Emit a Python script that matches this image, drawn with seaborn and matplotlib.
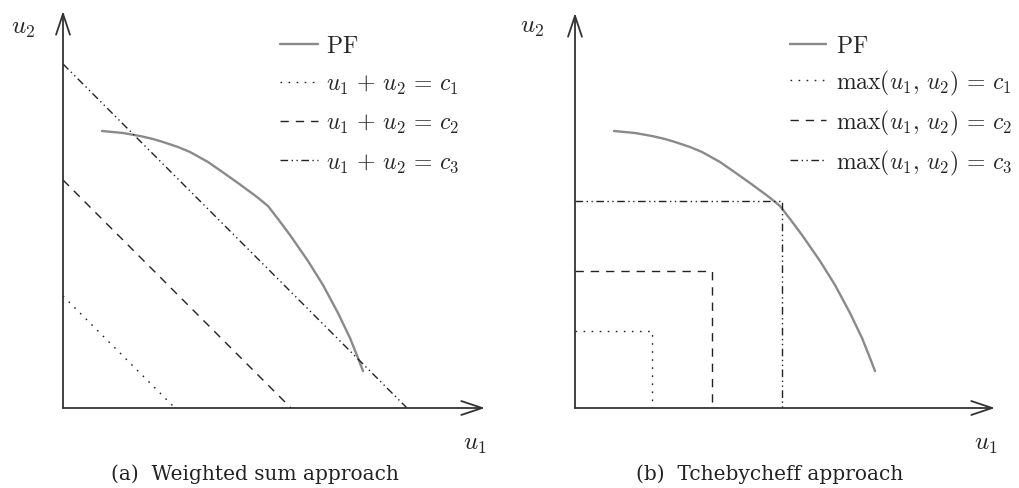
import numpy as np
import pandas as pd
import matplotlib
matplotlib.use("Agg")
import matplotlib.pyplot as plt
import seaborn as sns

# Pareto front (same curve in both panels)
pf_u1 = [0.39, 0.60, 0.77, 0.90, 1.00, 1.15, 1.27, 1.45, 1.58, 1.75, 1.94, 2.05,
         2.15, 2.27, 2.45, 2.60, 2.75, 2.87, 2.95, 3.00]
pf_u2 = [2.77, 2.75, 2.72, 2.69, 2.66, 2.61, 2.56, 2.46, 2.37, 2.25, 2.11, 2.02,
         1.89, 1.73, 1.47, 1.23, 0.95, 0.70, 0.50, 0.37]

# contour levels
ws_levels = [1.12, 2.28, 3.44]   # u1 + u2 = c
tch_levels = [0.77, 1.37, 2.07]  # max(u1, u2) = c

ws_labels = [r"$u_1 \,+\, u_2 \,=\, c_1$", r"$u_1 \,+\, u_2 \,=\, c_2$",
             r"$u_1 \,+\, u_2 \,=\, c_3$"]
tch_labels = [r"$\max(u_1,\, u_2) \,=\, c_1$", r"$\max(u_1,\, u_2) \,=\, c_2$",
              r"$\max(u_1,\, u_2) \,=\, c_3$"]
captions = ["(a)  Weighted sum approach", "(b)  Tchebycheff approach"]

sns.set_theme(style="white")
plt.rcParams["mathtext.fontset"] = "cm"
plt.rcParams["font.family"] = ["DejaVu Serif"]

W, H = 1020, 489
fig = plt.figure(figsize=(W / 100, H / 100), dpi=100)

line_col = "#222222"
pf_col = "#8a8a8a"
styles = [(0, (1.2, 4.6)), (0, (6, 5)), (0, (5.5, 2.5, 1, 2.5, 1, 2.5))]


def px_axes(x0, y0, x1, y1):
    # axes box from pixel corners (origin x0,y0 bottom-left; x1,y1 arrow tips)
    return fig.add_axes([x0 / W, 1 - y0 / H, (x1 - x0) / W, (y0 - y1) / H])


def draw_frame(ax, xmax, ymax):
    ax.set_xlim(0, xmax)
    ax.set_ylim(0, ymax)
    ax.axis("off")
    for tip in [(xmax, 0), (0, ymax)]:
        ax.annotate("", xy=tip, xytext=(0, 0), annotation_clip=False,
                    arrowprops=dict(arrowstyle="->,head_length=0.75,head_width=0.25",
                                    mutation_scale=20, color="#333333", lw=1.3,
                                    shrinkA=0, shrinkB=0))


pf = pd.DataFrame({"u1": pf_u1, "u2": pf_u2})

# ---- panel (a): weighted sum
ax1 = px_axes(63, 409, 485, 12)
draw_frame(ax1, 4.22, 3.97)
sns.lineplot(data=pf, x="u1", y="u2", ax=ax1, color=pf_col, linewidth=1.7,
             estimator=None, sort=False, label=r"$\mathrm{PF}$")
for c, lab, ls in zip(ws_levels, ws_labels, styles):
    sns.lineplot(x=[0, c], y=[c, 0], ax=ax1, color=line_col, linewidth=1.0,
                 linestyle=ls, estimator=None, sort=False, label=lab)
h, l = ax1.get_legend_handles_labels()
ax1.legend(h, l, loc="upper left", bbox_to_anchor=(280 / W, 1 - 35 / H),
           bbox_transform=fig.transFigure, frameon=False, fontsize=17,
           handlelength=1.6, handletextpad=0.34, labelspacing=0.64,
           borderpad=0, borderaxespad=0)

# ---- panel (b): Tchebycheff
ax2 = px_axes(575, 409, 995, 14)
draw_frame(ax2, 4.20, 3.95)
sns.lineplot(data=pf, x="u1", y="u2", ax=ax2, color=pf_col, linewidth=1.7,
             estimator=None, sort=False, label=r"$\mathrm{PF}$")
for c, lab, ls in zip(tch_levels, tch_labels, styles):
    sns.lineplot(x=[0, c, c], y=[c, c, 0], ax=ax2, color=line_col, linewidth=1.0,
                 linestyle=ls, estimator=None, sort=False, label=lab)
h, l = ax2.get_legend_handles_labels()
ax2.legend(h, l, loc="upper left", bbox_to_anchor=(790 / W, 1 - 35 / H),
           bbox_transform=fig.transFigure, frameon=False, fontsize=17,
           handlelength=1.52, handletextpad=0.42, labelspacing=0.46,
           borderpad=0, borderaxespad=0)

# axis labels and captions
for x, y, s in [(23, 28, r"$u_2$"), (532, 27, r"$u_2$"),
                (475, 445, r"$u_1$"), (986, 445, r"$u_1$")]:
    fig.text(x / W, 1 - y / H, s, fontsize=18, ha="center", va="center")
for x, s in zip([255, 770], captions):
    fig.text(x / W, 1 - 474 / H, s, fontsize=14.5, ha="center", va="center",
             color="#222222")

fig.savefig("out.png", dpi=100)
